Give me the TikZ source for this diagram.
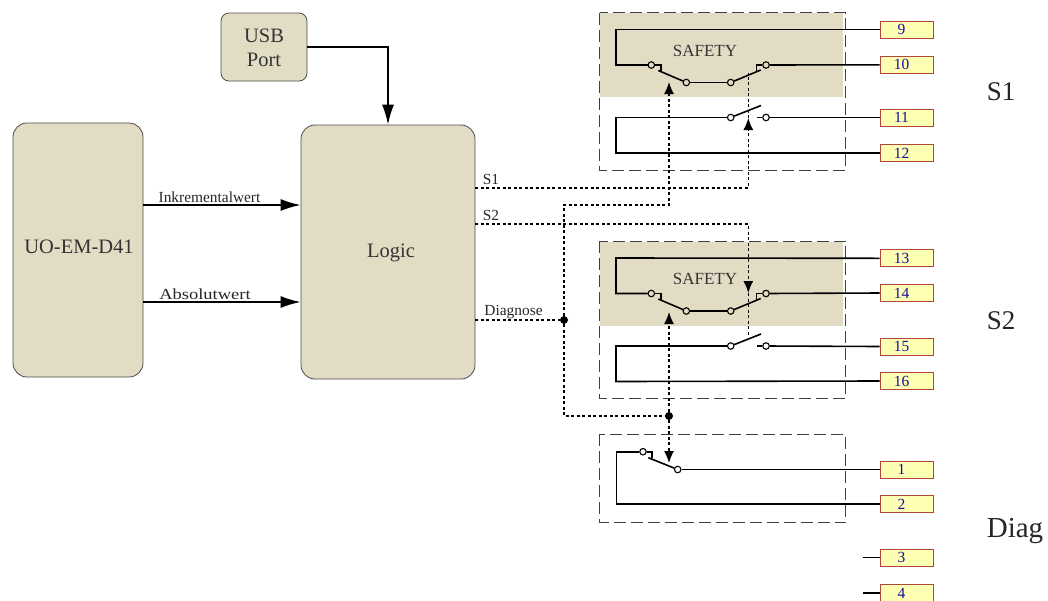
\documentclass[tikz,border=0pt]{standalone}
\usepackage{fontspec}
\setmainfont{Liberation Serif}
\usetikzlibrary{arrows.meta}

\definecolor{tanbg}{HTML}{E3DCC4}
\definecolor{pinfill}{HTML}{FFFFB4}
\definecolor{pinedge}{HTML}{B5473A}
\definecolor{pintext}{HTML}{10109A}

\tikzset{
  block/.style={draw=black!70,line width=0.8,fill=tanbg,rounded corners=14,inner sep=0},
  blocklabel/.style={inner sep=0,align=center,font=\fontsize{20.5}{24}\selectfont,text=black!80},
  pin/.style={draw=pinedge,line width=1,fill=pinfill,minimum width=53,minimum height=17,inner sep=0,text=pintext,font=\fontsize{15.5}{15}\selectfont},
  contact/.style={draw,circle,line width=1.1,minimum size=6.5,inner sep=0},
  wire/.style={line width=1.6},
  sig/.style={line width=1.3,dash pattern=on 3 off 2.5},
  sigarrow/.style={sig,-{Latex[length=12,width=10]}},
  power/.style={line width=1.6,-{Latex[length=20,width=12]}},
  frame/.style={draw=black!75,line width=0.9,dash pattern=on 12 off 5},
  joint/.style={circle,fill=black,minimum size=8,inner sep=0},
  siglabel/.style={inner sep=0,font=\fontsize{15.4}{15}\selectfont,text=black!85},
  grouplabel/.style={inner sep=0,font=\fontsize{27}{27}\selectfont,text=black!85},
  safetylabel/.style={inner sep=0,font=\fontsize{17}{17}\selectfont,text=black!80},
}

\begin{document}
\begin{tikzpicture}[x=1pt,y=-1pt]
\useasboundingbox (0,0) rectangle (1048,600);

% Main blocks
\node[block,minimum width=86,minimum height=68,rounded corners=8] (usb) at (264,47) {};
\node[block,minimum width=130,minimum height=254] (uo) at (78,250) {};
\node[block,minimum width=174,minimum height=254] (logic) at (388,252) {};
\node[blocklabel] (usbtext) at (264,48) {USB\\Port};
\node[blocklabel] (uotext) at (79,247) {UO-EM-D41};
\node[blocklabel] (logictext) at (391,253) {Logic};

\draw[power] (usb.east) -| (logic.north);
\draw[power] (uo.east |- 0,205) -- (logic.west |- 0,205);
\draw[power] (uo.east |- 0,302) -- (logic.west |- 0,302);
\node[siglabel] (ink) at (209.5,197) {Inkrementalwert};
\node[siglabel,xscale=1.2,transform shape] (abs) at (205,294) {Absolutwert};

% Terminals
\foreach \n/\y in {9/29.5,10/64.8,11/117.5,12/153,13/258.3,14/293,15/346.5,16/381,1/469.5,2/504,3/557.5,4/593}
  \node[pin] (pin\n) at (906.5,\y) {\hspace*{-10pt}\n};

% Relay groups S1 and S2
\foreach \g/\dy/\pa/\pb/\pc/\pd in {one/0/9/10/11/12,two/228.5/13/14/15/16}{
\begin{scope}[shift={(0,\dy)}]
  \fill[tanbg] (600,13) rectangle (843,97);
  \draw[frame] (599.5,12.5) rectangle (845.7,170);
  \node[safetylabel] (\g safe) at (705,50.5) {SAFETY};
  \node[contact] (\g a) at (651.3,65) {};
  \node[contact] (\g b) at (686.3,82.5) {};
  \node[contact] (\g c) at (730.7,82.5) {};
  \node[contact] (\g d) at (766,65) {};
  \node[contact] (\g e) at (730.7,117.5) {};
  \node[contact] (\g f) at (766,117.5) {};
  \coordinate (\g kl) at (660.7,71);
  \coordinate (\g tl) at (658.3,70.5);
  \coordinate (\g kr) at (756.5,71);
  \coordinate (\g tr) at (760.7,70);
  \coordinate (\g to) at (761,105.5);
  \coordinate (\g st) at (757,117.5);
  \coordinate (\g ul) at (616,29.5);
  \coordinate (\g ll) at (616,65);
  \coordinate (\g um) at (616,117.5);
  \coordinate (\g lm) at (616,153);
  \draw[wire] (pin\pa.west) -- (\g ul) -- (\g ll) -- (\g a);
  \draw[wire] (\g a) -| (\g kl);
  \draw[wire] (\g b) -- (\g tl);
  \draw[wire] (\g b) -- (\g c);
  \draw[wire] (\g c) -- (\g tr);
  \draw[wire] (\g d) -| (\g kr);
  \draw[wire] (\g d) -- (pin\pb.west);
  \draw[wire] (\g e) -- (\g um) -- (\g lm) -- (pin\pd.west);
  \draw[wire] (\g e) -- (\g to);
  \draw[wire] (\g st) -- (\g f);
  \draw[wire] (\g f) -- (pin\pc.west);
\end{scope}
}

% Diagnose contact
\draw[frame] (599.5,434.3) rectangle (845.7,522.3);
\node[contact] (diaga) at (643,451.7) {};
\node[contact] (diagb) at (677.7,469.5) {};
\coordinate (diagk) at (652,458);
\coordinate (diagt) at (648.3,457.7);
\coordinate (diagu) at (616.3,451.7);
\coordinate (diagl) at (616.3,504);
\draw[wire] (diaga) -- (diagu) -- (diagl) -- (pin2.west);
\draw[wire] (diaga) -| (diagk);
\draw[wire] (diagb) -- (diagt);
\draw[wire] (diagb) -- (pin1.west);
\coordinate (stubc) at (862.7,557.5);
\coordinate (stubd) at (862.7,593);
\draw[wire] (stubc) -- (pin3.west);
\draw[wire] (stubd) -- (pin4.west);

% Control lines from the logic
\coordinate (tipone) at (748.3,118);
\coordinate (endone) at (748.3,73);
\coordinate (tiptwo) at (748.3,293);
\coordinate (endtwo) at (748.3,336);
\coordinate (tipdia) at (669,82);
\coordinate (tipdib) at (669,312);
\coordinate (tipdic) at (669,463);
\coordinate (bendb) at (564,416);
\node[joint] (jointa) at (564,320) {};
\node[joint] (jointb) at (669,416) {};

\draw[sigarrow] (logic.east |- 0,188) -| (tipone);
\draw[sig] (tipone) -- (endone);
\draw[sigarrow] (logic.east |- 0,224) -| (tiptwo);
\draw[sig] (tiptwo) -- (endtwo);
\draw[sig] (logic.east |- jointa) -- (jointa);
\draw[sigarrow] (jointa) |- (tipdia |- 0,205) -- (tipdia);
\draw[sig] (jointa) |- (bendb) -- (jointb);
\draw[sigarrow] (jointb) -- (tipdib);
\draw[sigarrow] (jointb) -- (tipdic);

\node[siglabel] (sone) at (491,179) {S1};
\node[siglabel] (stwo) at (491,215) {S2};
\node[siglabel] (sdia) at (513.5,312.5) {Diagnose};

\node[grouplabel] (gone) at (1001,92) {S1};
\node[grouplabel] (gtwo) at (1001,321) {S2};
\node[grouplabel,font=\fontsize{29}{29}\selectfont] (gdia) at (1015,531) {Diag};
\end{tikzpicture}
\end{document}
